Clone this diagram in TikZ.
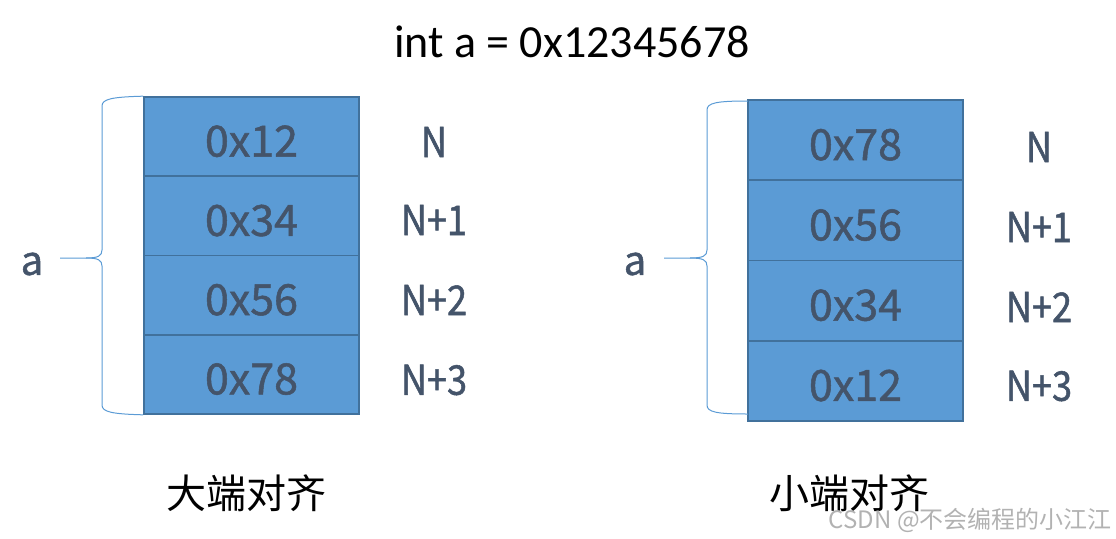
\documentclass[tikz,border=0pt]{standalone}
\usepackage{fontspec}
\setmainfont{Carlito}
\newfontfamily\cjk{Noto Sans CJK SC}
\newfontfamily\hexfont[FakeBold=1.2]{Noto Sans CJK SC}
\newfontfamily\lblfont[FakeStretch=0.88,FakeBold=1.2]{Noto Sans CJK SC}
\definecolor{cellfill}{HTML}{5B9BD5}
\definecolor{celledge}{HTML}{41719C}
\definecolor{txtdark}{HTML}{44546A}
\definecolor{bracecol}{HTML}{5B9BD5}
\tikzset{
  cell/.style={draw=celledge, line width=1.6pt, fill=cellfill, minimum width=215pt, inner sep=0pt,
    text=txtdark, text height=40pt, text depth=0pt, font=\hexfont\fontsize{43}{43}\selectfont},
  addr/.style={text=txtdark, inner sep=0pt, font=\lblfont\fontsize{41}{41}\selectfont},
  varname/.style={text=txtdark, inner sep=0pt, font=\hexfont\fontsize{40}{40}\selectfont},
  caption/.style={inner sep=0pt, font=\cjk\fontsize{40}{40}\selectfont},
  bracket/.style={draw=bracecol, line width=1pt},
}
\begin{document}
\begin{tikzpicture}[x=1pt,y=-1pt]
\useasboundingbox (0,0) rectangle (1116,538);
\node[inner sep=0pt, font=\fontsize{46}{46}\selectfont] (title) at (572,42) {int a = 0x12345678};
% big endian
\foreach \t/\y/\n in {0x12/136.6/1,0x34/215.9/2,0x56/295.1/3,0x78/374.4/4}
  \node[cell, minimum height=79.25pt] (L\n) at (251.5,\y) {\t};
\foreach \t/\y/\n in {N/142/1,N+1/220/2,N+2/300/3,N+3/380/4}
  \node[addr] (LA\n) at (434,\y) {\t};
\node[varname] (La) at (32,264) {a};
\coordinate (Ltip) at (60,258);
\draw[bracket] (L1.north west) .. controls (112,97) and (102,99) .. (102,106)
  -- (102,250) .. controls (102,256) and (98,258) .. (86,258) -- (Ltip);
\draw[bracket] (L4.south west) .. controls (112,414) and (102,412) .. (102,405)
  -- (102,266) .. controls (102,260) and (98,258) .. (86,258);
\node[caption] (Lcap) at (246,493) {大端对齐};
% little endian
\foreach \t/\y/\n in {0x78/140.1/1,0x56/220.4/2,0x34/300.6/3,0x12/380.9/4}
  \node[cell, minimum height=80.25pt] (R\n) at (855.5,\y) {\t};
\foreach \t/\y/\n in {N/147/1,N+1/227/2,N+2/307/3,N+3/386/4}
  \node[addr] (RA\n) at (1039,\y) {\t};
\node[varname] (Ra) at (635,264) {a};
\coordinate (Rtip) at (664,258);
\coordinate (Rtop) at (748,101);
\coordinate (Rbot) at (748,414);
\draw[bracket] (Rtop) .. controls (716,101) and (707,103) .. (707,110)
  -- (707,250) .. controls (707,256) and (703,258) .. (690,258) -- (Rtip);
\draw[bracket] (Rbot) .. controls (716,414) and (707,412) .. (707,405)
  -- (707,266) .. controls (707,260) and (703,258) .. (690,258);
\node[caption] (Rcap) at (849,493) {小端对齐};
\node[inner sep=0pt, text=black!30, font=\cjk\fontsize{24}{24}\selectfont, anchor=east] (wm) at (1112,520) {CSDN @不会编程的小江江};
\end{tikzpicture}
\end{document}
